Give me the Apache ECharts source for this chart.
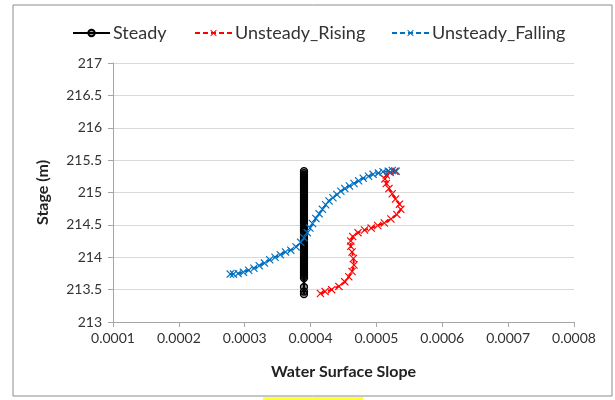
<!DOCTYPE html>
<html>
<head>
<meta charset="utf-8">
<script src="https://cdn.jsdelivr.net/npm/echarts@6/dist/echarts.min.js"></script>
<style>
  html, body { margin: 0; padding: 0; background: #fff; }
  #chart { width: 615px; height: 400px; }
</style>
</head>
<body>
<div id="chart"></div>
<script>
// rating curve data: water surface slope vs stage
const xTicks = [0.0001, 0.0002, 0.0003, 0.0004, 0.0005, 0.0006, 0.0007, 0.0008];
const yTicks = [213, 213.5, 214, 214.5, 215, 215.5, 216, 216.5, 217];
const seriesNames = ['Steady', 'Unsteady_Rising', 'Unsteady_Falling'];

// steady: constant slope, stage values along the column
const steadySlope = 0.00039;
const steadyStage = [
    213.43, 213.47, 213.54, 213.68, 213.71, 213.74, 213.77, 213.80, 213.83, 213.86,
    213.89, 213.92, 213.95, 213.98, 214.01, 214.04, 214.07, 214.10, 214.13, 214.16,
    214.19, 214.22, 214.25, 214.28, 214.31, 214.34, 214.37, 214.40, 214.43, 214.46,
    214.49, 214.52, 214.55, 214.58, 214.61, 214.64, 214.67, 214.70, 214.73, 214.76,
    214.79, 214.82, 214.85, 214.88, 214.91, 214.94, 214.97, 215.00, 215.03, 215.06,
    215.09, 215.12, 215.15, 215.18, 215.21, 215.24, 215.27, 215.30, 215.33
];

// unsteady rising limb [slope, stage]
const risingData = [
    [0.000415, 213.44], [0.000422, 213.47], [0.000432, 213.50], [0.000443, 213.55],
    [0.000452, 213.62], [0.000458, 213.70], [0.000463, 213.78], [0.000466, 213.88],
    [0.000465, 213.98], [0.000463, 214.08], [0.000461, 214.17], [0.000461, 214.25],
    [0.000464, 214.32], [0.000472, 214.38], [0.000482, 214.42], [0.000492, 214.45],
    [0.000502, 214.49], [0.000512, 214.53], [0.000522, 214.59], [0.000531, 214.66],
    [0.000537, 214.74], [0.000535, 214.82], [0.000529, 214.90], [0.000524, 214.98],
    [0.000519, 215.06], [0.000515, 215.14], [0.000513, 215.21], [0.000515, 215.27],
    [0.000521, 215.31], [0.000528, 215.33]
];

// unsteady falling limb [slope, stage]
const fallingData = [
    [0.000530, 215.33], [0.000524, 215.34], [0.000518, 215.33], [0.000510, 215.32],
    [0.000503, 215.30], [0.000495, 215.28], [0.000488, 215.25], [0.000480, 215.22],
    [0.000473, 215.18], [0.000466, 215.14], [0.000459, 215.10], [0.000452, 215.06],
    [0.000446, 215.02], [0.000440, 214.97], [0.000434, 214.92], [0.000428, 214.87],
    [0.000423, 214.81], [0.000418, 214.74], [0.000413, 214.67], [0.000408, 214.60],
    [0.000403, 214.52], [0.000399, 214.45], [0.000395, 214.38], [0.000390, 214.30],
    [0.000385, 214.23], [0.000378, 214.16], [0.000370, 214.11], [0.000362, 214.08],
    [0.000354, 214.04], [0.000346, 214.00], [0.000338, 213.96], [0.000330, 213.91],
    [0.000322, 213.87], [0.000314, 213.83], [0.000306, 213.80], [0.000298, 213.77],
    [0.000290, 213.75], [0.000283, 213.74], [0.000278, 213.74]
];

const FONT = 'Lato, "Liberation Sans", sans-serif';
const crossSymbol = 'path://M0,1L1,0L5,4L9,0L10,1L6,5L10,9L9,10L5,6L1,10L0,9L4,5Z';
const legendLefts = [67, 189, 386];

const chart = echarts.init(document.getElementById('chart'));

const option = {
    animation: false,
    backgroundColor: '#fff',
    textStyle: { fontFamily: FONT },
    graphic: [
        {
            type: 'rect',
            shape: { x: 13, y: 5, width: 599, height: 391 },
            style: { fill: 'none', stroke: '#8c8c8c', lineWidth: 1 },
            silent: true
        },
        {
            type: 'rect',
            shape: { x: 263, y: 397, width: 100, height: 3 },
            style: { fill: '#ffff33' },
            silent: true
        }
    ],
    // one legend per item so each sits where the original puts it
    legend: seriesNames.map((name, i) => ({
        top: 19,
        left: legendLefts[i],
        itemWidth: 37,
        itemHeight: 8,
        itemGap: 4,
        textStyle: { fontSize: 18, color: '#333', fontFamily: FONT, padding: [0, 0, 0, -2] },
        data: [name]
    })),
    grid: {
        left: 113,
        right: 41,
        top: 63,
        bottom: 78
    },
    xAxis: {
        type: 'value',
        min: xTicks[0],
        max: xTicks[xTicks.length - 1],
        interval: 0.0001,
        name: 'Water Surface Slope',
        nameLocation: 'middle',
        nameGap: 42,
        nameTextStyle: { fontSize: 16, fontWeight: 'bold', color: '#222', fontFamily: FONT },
        axisLine: { lineStyle: { color: '#a6a6a6' } },
        axisTick: { show: true, length: 5, lineStyle: { color: '#a6a6a6' } },
        axisLabel: {
            fontSize: 14,
            color: '#333',
            margin: 9,
            formatter: v => v.toFixed(4)
        },
        splitLine: { show: false }
    },
    yAxis: {
        type: 'value',
        min: yTicks[0],
        max: yTicks[yTicks.length - 1],
        interval: 0.5,
        name: 'Stage (m)',
        nameLocation: 'middle',
        nameGap: 62,
        nameTextStyle: { fontSize: 16, fontWeight: 'bold', color: '#222', fontFamily: FONT },
        axisLine: { show: true, lineStyle: { color: '#a6a6a6' } },
        axisTick: { show: true, length: 5, lineStyle: { color: '#a6a6a6' } },
        axisLabel: { fontSize: 14, color: '#333', margin: 11 },
        splitLine: { show: true, lineStyle: { color: '#d9d9d9', width: 1 } }
    },
    series: [
        {
            name: 'Steady',
            type: 'line',
            data: steadyStage.map(s => [steadySlope, s]),
            symbol: 'circle',
            symbolSize: 7,
            lineStyle: { color: '#000', width: 2.5 },
            itemStyle: { color: 'rgba(0,0,0,0.35)', borderColor: '#000', borderWidth: 1.3 }
        },
        {
            name: 'Unsteady_Rising',
            type: 'line',
            data: risingData,
            symbol: crossSymbol,
            symbolSize: 8,
            lineStyle: { color: '#ff0000', width: 2, type: [5, 3] },
            itemStyle: { color: '#ff0000' }
        },
        {
            name: 'Unsteady_Falling',
            type: 'line',
            data: fallingData,
            symbol: crossSymbol,
            symbolSize: 8,
            lineStyle: { color: '#0070c0', width: 2, type: [5, 3] },
            itemStyle: { color: '#0070c0' }
        }
    ]
};

chart.setOption(option);
</script>
</body>
</html>
